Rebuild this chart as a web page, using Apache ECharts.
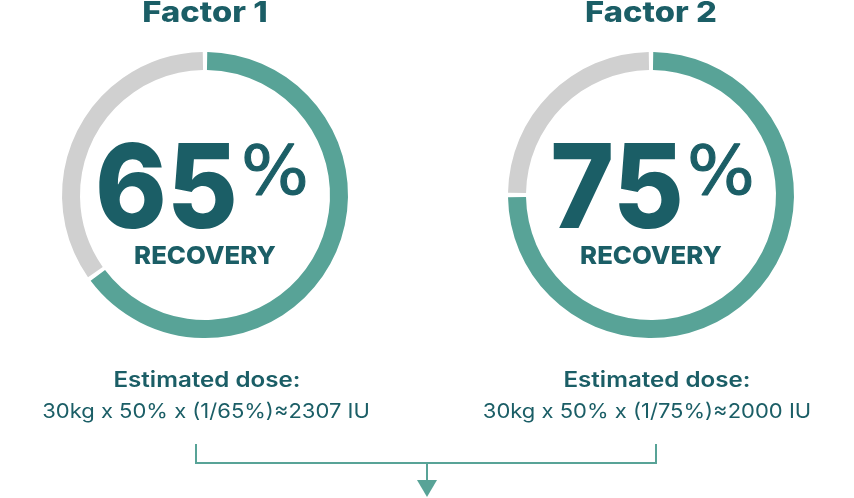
<!DOCTYPE html>
<html>
<head>
<meta charset="utf-8">
<script src="https://cdn.jsdelivr.net/npm/echarts@6/dist/echarts.min.js"></script>
<style>
  html, body { margin: 0; padding: 0; background: #fff; }
  #main { width: 854px; height: 498px; }
</style>
</head>
<body>
<div id="main"></div>
<script>
// data
const factors = ['Factor 1', 'Factor 2'];
const recovery = [65, 75];
const doseTitle = 'Estimated dose:';
const doseText = ['30kg x 50% x (1/65%)\u22482307 IU', '30kg x 50% x (1/75%)\u22482000 IU'];
const centerLabel = 'RECOVERY';

const dark = '#1b5e66';
const teal = '#58a397';
const grey = '#d0d0d0';
const font = 'Inter';

const centersX = [205, 651];
const centerY = 195;
// small horizontal nudges of the text under each ring
const titleShift = [2, 6];
const formulaShift = [1, -4];

const chart = echarts.init(document.getElementById('main'));

const series = recovery.map((v, i) => ({
  type: 'pie',
  center: [centersX[i], centerY],
  radius: [125, 143],
  startAngle: 90,
  padAngle: 1.8,
  silent: true,
  label: { show: false },
  labelLine: { show: false },
  data: [
    { value: v, itemStyle: { color: teal } },
    { value: 100 - v, itemStyle: { color: grey } }
  ]
}));

const graphic = [];
factors.forEach((f, i) => {
  const cx = centersX[i];
  graphic.push({
    type: 'text', x: cx, y: 14, scaleX: 1.17,
    style: { text: f, font: '800 28px ' + font, fill: dark, textAlign: 'center', textVerticalAlign: 'middle' }
  });
  graphic.push({
    type: 'text', x: cx + 33, y: 251, scaleX: 0.93,
    style: { text: String(recovery[i]), font: '800 117px ' + font, fill: dark, textAlign: 'right', textVerticalAlign: 'bottom' }
  });
  graphic.push({
    type: 'text', x: cx + 36, y: 176, scaleX: 1.05,
    style: { text: '%', font: '400 68px "DejaVu Sans"', fill: dark, textAlign: 'left', textVerticalAlign: 'middle', stroke: dark, lineWidth: 1 }
  });
  graphic.push({
    type: 'text', x: cx, y: 256, scaleX: 1.03,
    style: { text: centerLabel, font: '800 25px ' + font, fill: dark, textAlign: 'center', textVerticalAlign: 'middle' }
  });
  graphic.push({
    type: 'text', x: cx + titleShift[i], y: 381, scaleX: 1.15,
    style: { text: doseTitle, font: '600 21px ' + font, fill: dark, textAlign: 'center', textVerticalAlign: 'middle' }
  });
  graphic.push({
    type: 'text', x: cx + formulaShift[i], y: 412, scaleX: 1.1,
    style: { text: doseText[i], font: '400 20px ' + font, fill: dark, textAlign: 'center', textVerticalAlign: 'middle' }
  });
});

// bracket connector with arrow
graphic.push({
  type: 'polyline',
  shape: { points: [[196, 444], [196, 463], [656, 463], [656, 444]] },
  style: { stroke: teal, lineWidth: 2, fill: null }
});
graphic.push({
  type: 'line',
  shape: { x1: 427, y1: 463, x2: 427, y2: 482 },
  style: { stroke: teal, lineWidth: 2 }
});
graphic.push({
  type: 'polygon',
  shape: { points: [[417, 480], [437, 480], [427, 497]] },
  style: { fill: teal }
});

chart.setOption({
  animation: false,
  series: series,
  graphic: graphic
});
</script>
</body>
</html>
